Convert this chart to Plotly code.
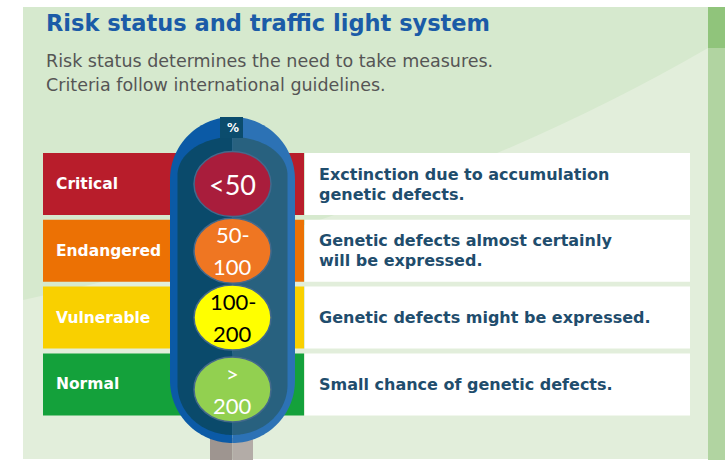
import numpy as np
import plotly.graph_objects as go

# ---------------- data ----------------
title = "Risk status and traffic light system"
subtitle_lines = ["Risk status determines the need to take measures.",
                  "Criteria follow international guidelines."]
categories = ["Critical", "Endangered", "Vulnerable", "Normal"]
category_colors = ["#b81d2b", "#ec7104", "#f9d000", "#14a13b"]
ranges = [["<50"], ["50-", "100"], ["100-", "200"], [">", "200"]]
range_colors = ["#a91d3c", "#ef7622", "#ffff00", "#92d050"]
range_text_colors = ["white", "white", "black", "white"]
descriptions = [["Exctinction due to accumulation", "genetic defects."],
                ["Genetic defects almost certainly", "will be expressed."],
                ["Genetic defects might be expressed."],
                ["Small chance of genetic defects."]]
unit_label = "%"

# ---------------- layout constants ----------------
W, H = 725, 460
row_top0, row_pitch, row_h = 153, 66.8, 62
col_x0, col_x1, box_x1 = 43, 304, 690
cx = 232.5
circle_rx, circle_ry = 38.5, 32.5

n = len(categories)
row_centers = [row_top0 + row_h / 2 + i * row_pitch for i in range(n)]

fig = go.Figure()

# coloured category blocks
fig.add_trace(go.Bar(orientation="h", y=row_centers,
                     x=[col_x1 - col_x0] * n, base=[col_x0] * n,
                     width=row_h, marker=dict(color=category_colors, line_width=0),
                     hoverinfo="skip", showlegend=False))
# white description blocks
fig.add_trace(go.Bar(orientation="h", y=row_centers,
                     x=[box_x1 - col_x1 - 1] * n, base=[col_x1 + 1] * n,
                     width=row_h, marker=dict(color="white", line_width=0),
                     hoverinfo="skip", showlegend=False))

shapes = []
# background
shapes.append(dict(type="rect", x0=23, x1=708, y0=7, y1=459, fillcolor="#d6e9ce",
                   line_width=0, layer="below"))
shapes.append(dict(type="path", path="M 23,300 Q 420,215 708,48 L 708,459 L 23,459 Z",
                   fillcolor="#e2eedb", line_width=0, layer="below"))
shapes.append(dict(type="rect", x0=708, x1=725, y0=7, y1=460, fillcolor="#b1d4a1",
                   line_width=0, layer="below"))
shapes.append(dict(type="rect", x0=708, x1=725, y0=7, y1=48, fillcolor="#90c47b",
                   line_width=0, layer="below"))


def half(cx, top, bottom, rx, ry_top, ry_bot, side, m=40):
    sgn = 1 if side == "left" else -1
    pts = []
    for th in np.linspace(np.pi / 2, np.pi, m):
        pts.append((cx + sgn * rx * np.cos(th), top + ry_top - ry_top * np.sin(th)))
    for th in np.linspace(np.pi, 1.5 * np.pi, m):
        pts.append((cx + sgn * rx * np.cos(th), bottom - ry_bot - ry_bot * np.sin(th)))
    return "M " + " L ".join(f"{x:.2f},{y:.2f}" for x, y in pts) + " Z"


# pole
shapes.append(dict(type="rect", x0=210, x1=cx, y0=438, y1=461, fillcolor="#9e9590", line_width=0))
shapes.append(dict(type="rect", x0=cx, x1=253, y0=438, y1=461, fillcolor="#b3aca7", line_width=0))
# outer rim
shapes.append(dict(type="path", path=half(cx, 117, 443, 62.5, 62.5, 62.5, "left"),
                   fillcolor="#0b5aa6", line_width=0))
shapes.append(dict(type="path", path=half(cx, 117, 443, 62.5, 62.5, 62.5, "right"),
                   fillcolor="#2c72b5", line_width=0))
# inner body
shapes.append(dict(type="path", path=half(cx, 137, 435, 55, 38, 50, "left"),
                   fillcolor="#0a4a6b", line_width=0))
shapes.append(dict(type="path", path=half(cx, 137, 435, 55, 38, 50, "right"),
                   fillcolor="#28617f", line_width=0))
# tab behind %
shapes.append(dict(type="rect", x0=220, x1=243, y0=117, y1=138, fillcolor="#0b4c6d", line_width=0))

# lights
light_centers = list(row_centers)
light_centers[-1] += 5
for i in range(n):
    yc = light_centers[i]
    shapes.append(dict(type="circle", x0=cx - circle_rx, x1=cx + circle_rx,
                       y0=yc - circle_ry, y1=yc + circle_ry,
                       fillcolor=range_colors[i], line=dict(color="#44698c", width=1.5)))

annotations = []
annotations.append(dict(x=44, y=23, text=f"<b>{title}</b>", showarrow=False, xanchor="left",
                        yanchor="middle", font=dict(family="DejaVu Sans", size=22.5, color="#1b5ba7")))
for j, line in enumerate(subtitle_lines):
    annotations.append(dict(x=44, y=61 + j * 24, text=line, showarrow=False, xanchor="left",
                            yanchor="middle", font=dict(family="DejaVu Sans", size=17.5, color="#555555")))
annotations.append(dict(x=cx, y=128, text=f"<b>{unit_label}</b>", showarrow=False, xanchor="center",
                        yanchor="middle", font=dict(family="DejaVu Sans", size=12, color="white")))

for i in range(n):
    yc = row_centers[i]
    annotations.append(dict(x=54, y=yc, text=f"<b>{categories[i]}</b>", showarrow=False,
                            xanchor="left", yanchor="middle",
                            font=dict(family="DejaVu Sans", size=15.5, color="white")))
    dl = descriptions[i]
    for j, line in enumerate(dl):
        off = (j - (len(dl) - 1) / 2) * 20
        annotations.append(dict(x=317, y=yc + off, text=f"<b>{line}</b>", showarrow=False,
                                xanchor="left", yanchor="middle",
                                font=dict(family="DejaVu Sans", size=16, color="#1f4d6d")))
    rl = ranges[i]
    lc = light_centers[i]
    for j, line in enumerate(rl):
        off = (j - (len(rl) - 1) / 2) * 32
        annotations.append(dict(x=cx, y=lc + off, text=line, showarrow=False,
                                xanchor="center", yanchor="middle",
                                font=dict(family="Lato", size=27 if len(rl) == 1 else 22,
                                          color=range_text_colors[i])))

fig.update_layout(
    width=W, height=H, margin=dict(l=0, r=0, t=0, b=0),
    paper_bgcolor="white", plot_bgcolor="rgba(0,0,0,0)",
    xaxis=dict(range=[0, W], visible=False, fixedrange=True),
    yaxis=dict(range=[H, 0], visible=False, fixedrange=True),
    shapes=shapes, annotations=annotations, barmode="overlay", showlegend=False,
)

fig.write_html("out.html", config={"displayModeBar": False},
               post_script="document.body.style.margin='0';document.body.style.overflow='hidden';")
